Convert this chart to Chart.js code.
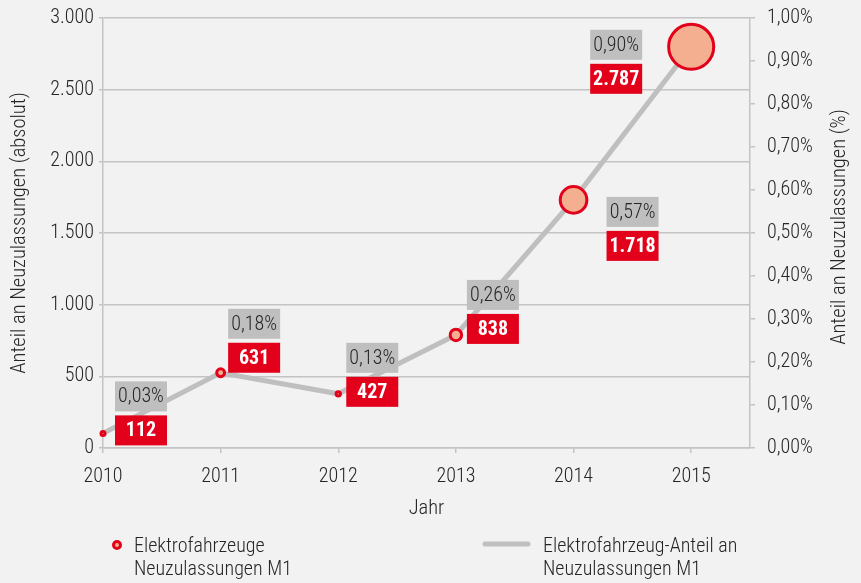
<!DOCTYPE html>
<html lang="de">
<head>
<meta charset="utf-8">
<title>Elektrofahrzeuge Neuzulassungen</title>
<script src="https://cdn.jsdelivr.net/npm/chart.js@4.4.1/dist/chart.umd.min.js"></script>
<style>
  html, body { margin: 0; padding: 0; background: #f2f2f2; }
  #contenedor { position: relative; width: 861px; height: 583px; }
</style>
</head>
<body>
<div id="contenedor"><canvas id="grafico"></canvas></div>
<script>
var jahre = [2010, 2011, 2012, 2013, 2014, 2015];
var neuzulassungen = [112, 631, 427, 838, 1718, 2787];
// Lage der Punkte auf der rechten Achse (%)
var anteilPunkte = [0.034, 0.175, 0.126, 0.263, 0.577, 0.933];
var anteilText = ['0,03%', '0,18%', '0,13%', '0,26%', '0,57%', '0,90%'];
var legendeText = [['Elektrofahrzeuge', 'Neuzulassungen M1'], ['Elektrofahrzeug-Anteil an', 'Neuzulassungen M1']];

var ROT = '#e2001a', PFIRSICH = '#f4af91', GRAU = '#bfbfbf', LINIE = '#c3c3c3', TEXT = '#262626';
var FUENTE = "'Roboto Condensed', 'Liberation Sans Narrow', sans-serif";

/**
 * Etiketten (grauer Kasten mit Anteil, roter Kasten mit absoluter Zahl),
 * rechter Achsentitel und Legende
 */
var etiquetas = {
    id: 'etiquetas',
    versatz: [[12, -52], [7.5, -64], [8, -51], [11, -55], [33, -3], [-101, -17]],
    afterDatasetsDraw: function(chart) {
        var ctx = chart.ctx;
        var meta = chart.getDatasetMeta(0);
        var ancho = 52, alto = 30, espacio = 4;
        ctx.save();
        ctx.textAlign = 'center';
        ctx.textBaseline = 'middle';
        meta.data.forEach(function(punto, i) {
            var x = punto.x + this.versatz[i][0];
            var y = punto.y + this.versatz[i][1];
            ctx.fillStyle = GRAU;
            ctx.fillRect(x, y, ancho, alto);
            ctx.fillStyle = TEXT;
            ctx.font = '300 20px ' + FUENTE;
            ctx.fillText(anteilText[i], x + ancho / 2, y + alto / 2 + 1);
            ctx.fillStyle = ROT;
            ctx.fillRect(x, y + alto + espacio, ancho, alto);
            ctx.fillStyle = '#ffffff';
            ctx.font = 'bold 20px ' + FUENTE;
            ctx.fillText(neuzulassungen[i].toLocaleString('de-DE'), x + ancho / 2, y + alto + espacio + alto / 2 + 1);
        }, this);
        ctx.restore();
    },
    afterDraw: function(chart) {
        var ctx = chart.ctx;
        ctx.save();
        ctx.fillStyle = TEXT;
        ctx.font = '300 20.5px ' + FUENTE;
        // rechter Achsentitel, von unten nach oben gelesen
        ctx.translate(840, 227);
        ctx.rotate(-Math.PI / 2);
        ctx.textAlign = 'center';
        ctx.textBaseline = 'middle';
        ctx.fillText('Anteil an Neuzulassungen (%)', 0, 0);
        ctx.restore();

        // Legende
        ctx.save();
        ctx.font = '300 20px ' + FUENTE;
        ctx.textBaseline = 'alphabetic';
        ctx.beginPath();
        ctx.arc(117, 545, 3.5, 0, Math.PI * 2);
        ctx.fillStyle = PFIRSICH;
        ctx.fill();
        ctx.lineWidth = 3;
        ctx.strokeStyle = ROT;
        ctx.stroke();
        ctx.fillStyle = TEXT;
        legendeText[0].forEach(function(linea, k) {
            ctx.fillText(linea, 134, 552 + k * 22.5);
        });
        ctx.beginPath();
        ctx.moveTo(485, 544);
        ctx.lineTo(528, 544);
        ctx.lineWidth = 5;
        ctx.lineCap = 'round';
        ctx.strokeStyle = GRAU;
        ctx.stroke();
        legendeText[1].forEach(function(linea, k) {
            ctx.fillText(linea, 543, 552 + k * 22.5);
        });
        ctx.restore();
    }
};

var fuenteEje = { family: FUENTE, size: 20, weight: 300 };
// kleine Zeilenhöhe, damit die rechte Achse oben keinen Zusatzrand erzwingt
var fuenteEjeDerecho = { family: FUENTE, size: 20, weight: 300, lineHeight: 0.4 };
var fuenteTitulo = { family: FUENTE, size: 20.5, weight: 300 };

function ejeFijo(prop, valor) {
    return function(scale) {
        scale[prop] = valor;
    };
}

var ctx = document.getElementById('grafico').getContext('2d');
var chartElektro = new Chart(ctx, {
    type: 'bubble',
    data: {
        datasets: [{
            label: 'Elektrofahrzeuge Neuzulassungen M1',
            yAxisID: 'y1',
            order: 0,
            clip: false,
            data: jahre.map(function(j, i) {
                return { x: j, y: anteilPunkte[i], r: Math.max(2, neuzulassungen[i] / 116 - 1.5) };
            }),
            backgroundColor: PFIRSICH,
            borderColor: ROT,
            borderWidth: 3
        }, {
            type: 'line',
            label: 'Elektrofahrzeug-Anteil an Neuzulassungen M1',
            yAxisID: 'y1',
            order: 1,
            data: jahre.map(function(j, i) {
                return { x: j, y: anteilPunkte[i] };
            }),
            borderColor: GRAU,
            borderWidth: 5,
            pointRadius: 0,
            fill: false,
            tension: 0
        }]
    },
    options: {
        responsive: true,
        maintainAspectRatio: false,
        animation: false,
        layout: { autoPadding: false, padding: { top: 18, bottom: 60, left: 0, right: 0 } },
        plugins: {
            legend: { display: false },
            tooltip: { enabled: false }
        },
        scales: {
            x: {
                type: 'linear',
                min: 2010,
                max: 2015.5,
                afterFit: ejeFijo('height', 75),
                ticks: {
                    stepSize: 1,
                    includeBounds: false,
                    color: TEXT,
                    font: fuenteEje,
                    padding: 12,
                    callback: function(v) { return String(v); }
                },
                grid: { drawOnChartArea: false, color: LINIE, tickLength: 5, lineWidth: 1.5 },
                border: { color: LINIE, width: 1.5 },
                title: { display: true, text: 'Jahr', color: TEXT, font: fuenteTitulo, padding: { top: 0, bottom: 2 } }
            },
            y: {
                position: 'left',
                min: 0,
                max: 3000,
                afterFit: ejeFijo('width', 103),
                ticks: {
                    stepSize: 500,
                    color: TEXT,
                    font: fuenteEje,
                    padding: 5,
                    callback: function(v) { return v.toLocaleString('de-DE'); }
                },
                grid: { color: LINIE, tickLength: 4, lineWidth: 1.5 },
                border: { color: LINIE, width: 1.5 },
                title: { display: true, text: 'Anteil an Neuzulassungen (absolut)', color: TEXT, font: fuenteTitulo, padding: { top: 8, bottom: 0 } }
            },
            y1: {
                position: 'right',
                min: 0,
                max: 1,
                afterFit: ejeFijo('width', 111),
                ticks: {
                    stepSize: 0.1,
                    color: TEXT,
                    font: fuenteEjeDerecho,
                    padding: 12,
                    callback: function(v) { return v.toFixed(2).replace('.', ',') + '%'; }
                },
                grid: { drawOnChartArea: false, color: LINIE, tickLength: 5, lineWidth: 1.5 },
                border: { color: LINIE, width: 1.5 }
            }
        }
    },
    plugins: [etiquetas]
});
</script>
</body>
</html>
